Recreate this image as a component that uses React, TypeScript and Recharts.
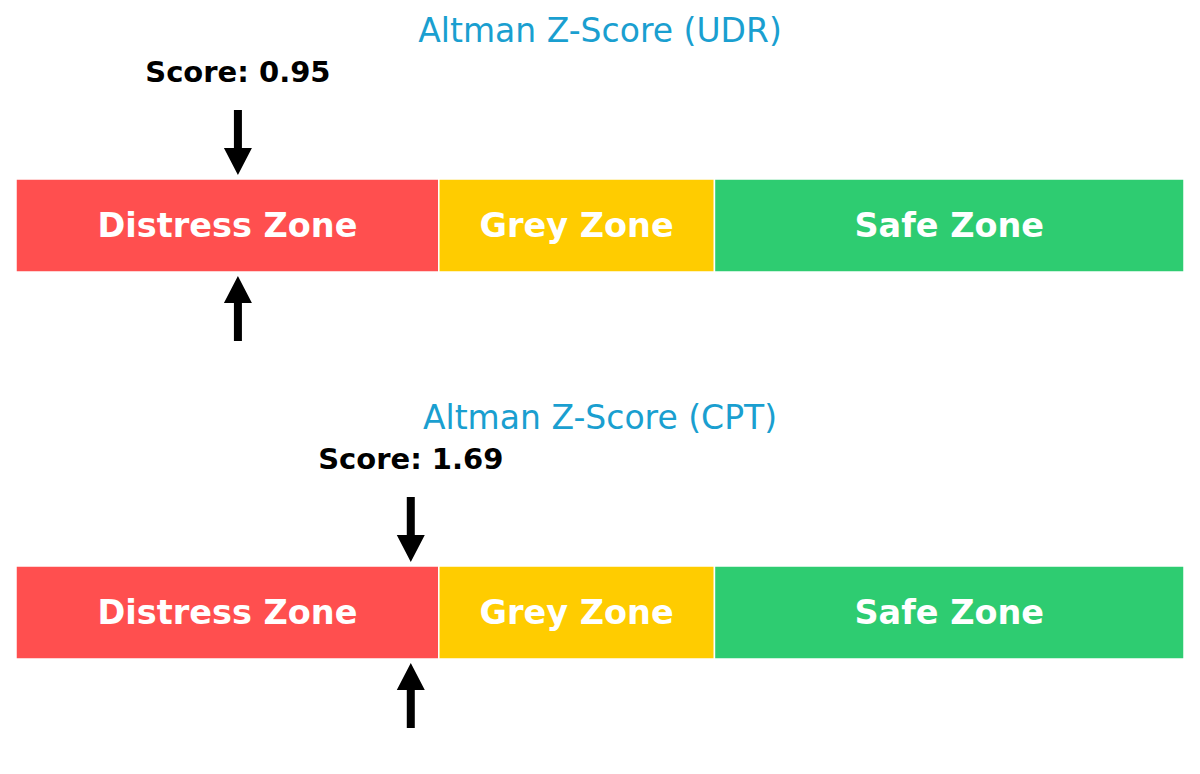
import React from 'react';
import { BarChart, Bar, XAxis, YAxis, ReferenceDot, LabelList } from 'recharts';

const companies = ['UDR', 'CPT'];
const scores = [0.95, 1.69];
const zoneKeys = ['distress', 'grey', 'safe'];
const zoneNames = ['Distress Zone', 'Grey Zone', 'Safe Zone'];
const zoneWidths = [1.81, 1.18, 2.01];
const zoneColors = ['#ff4f4f', '#ffcc00', '#2ecc71'];
const scoreDomain = [0, 5];

const W = 1200;
const H = 387;
const FONT = 'DejaVu Sans, sans-serif';

function makeRow(name: string) {
  const row: Record<string, any> = { name };
  zoneKeys.forEach((k, i) => {
    row[k] = zoneWidths[i];
  });
  return row;
}

function ArrowShape(props: any) {
  const { cx, cy, score, company } = props;
  const sw = 4; // half shaft width
  const hw = 14; // half head width
  const down = `${cx - sw},${cy - 115.5} ${cx + sw},${cy - 115.5} ${cx + sw},${cy - 77.5} ${cx + hw},${cy - 77.5} ${cx},${cy - 50.5} ${cx - hw},${cy - 77.5} ${cx - sw},${cy - 77.5}`;
  const up = `${cx - sw},${cy + 115.5} ${cx + sw},${cy + 115.5} ${cx + sw},${cy + 77.5} ${cx + hw},${cy + 77.5} ${cx},${cy + 50.5} ${cx - hw},${cy + 77.5} ${cx - sw},${cy + 77.5}`;
  return (
    <g>
      <text x={W / 2} y={cy - 183.5} textAnchor="middle" fontFamily={FONT} fontSize={33} fill="#1a9fd0">
        {`Altman Z-Score (${company})`}
      </text>
      <text x={cx} y={cy - 143.5} textAnchor="middle" fontFamily={FONT} fontSize={29} fontWeight="bold" fill="#000">
        {`Score: ${score.toFixed(2)}`}
      </text>
      <polygon points={down} fill="#000" />
      <polygon points={up} fill="#000" />
    </g>
  );
}

function Gauge({ company, score }: { company: string; score: number }) {
  const data = [makeRow(company)];
  return (
    <BarChart
      width={W}
      height={H}
      data={data}
      layout="vertical"
      margin={{ top: 179, bottom: 115, left: 16, right: 16 }}
      barCategoryGap={0}
      style={{ fontFamily: FONT }}
    >
      <XAxis type="number" domain={scoreDomain} hide />
      <YAxis type="category" dataKey="name" hide />
      {zoneKeys.map((k, i) => (
        <Bar key={k} dataKey={k} stackId="z" fill={zoneColors[i]} stroke="#ffffff" strokeWidth={1.5} isAnimationActive={false}>
          <LabelList
            dataKey={k}
            position="center"
            formatter={() => zoneNames[i]}
            fill="#ffffff"
            fontSize={33.5}
            fontWeight="bold"
            fontFamily={FONT}
          />
        </Bar>
      ))}
      <ReferenceDot
        x={score}
        y={company}
        r={0}
        isFront
        shape={(p: any) => <ArrowShape {...p} score={score} company={company} />}
      />
    </BarChart>
  );
}

export default function App() {
  return (
    <div style={{ position: 'absolute', left: 0, top: 0, width: W, height: 774, background: '#ffffff' }}>
      {companies.map((c, i) => (
        <Gauge key={c} company={c} score={scores[i]} />
      ))}
    </div>
  );
}
